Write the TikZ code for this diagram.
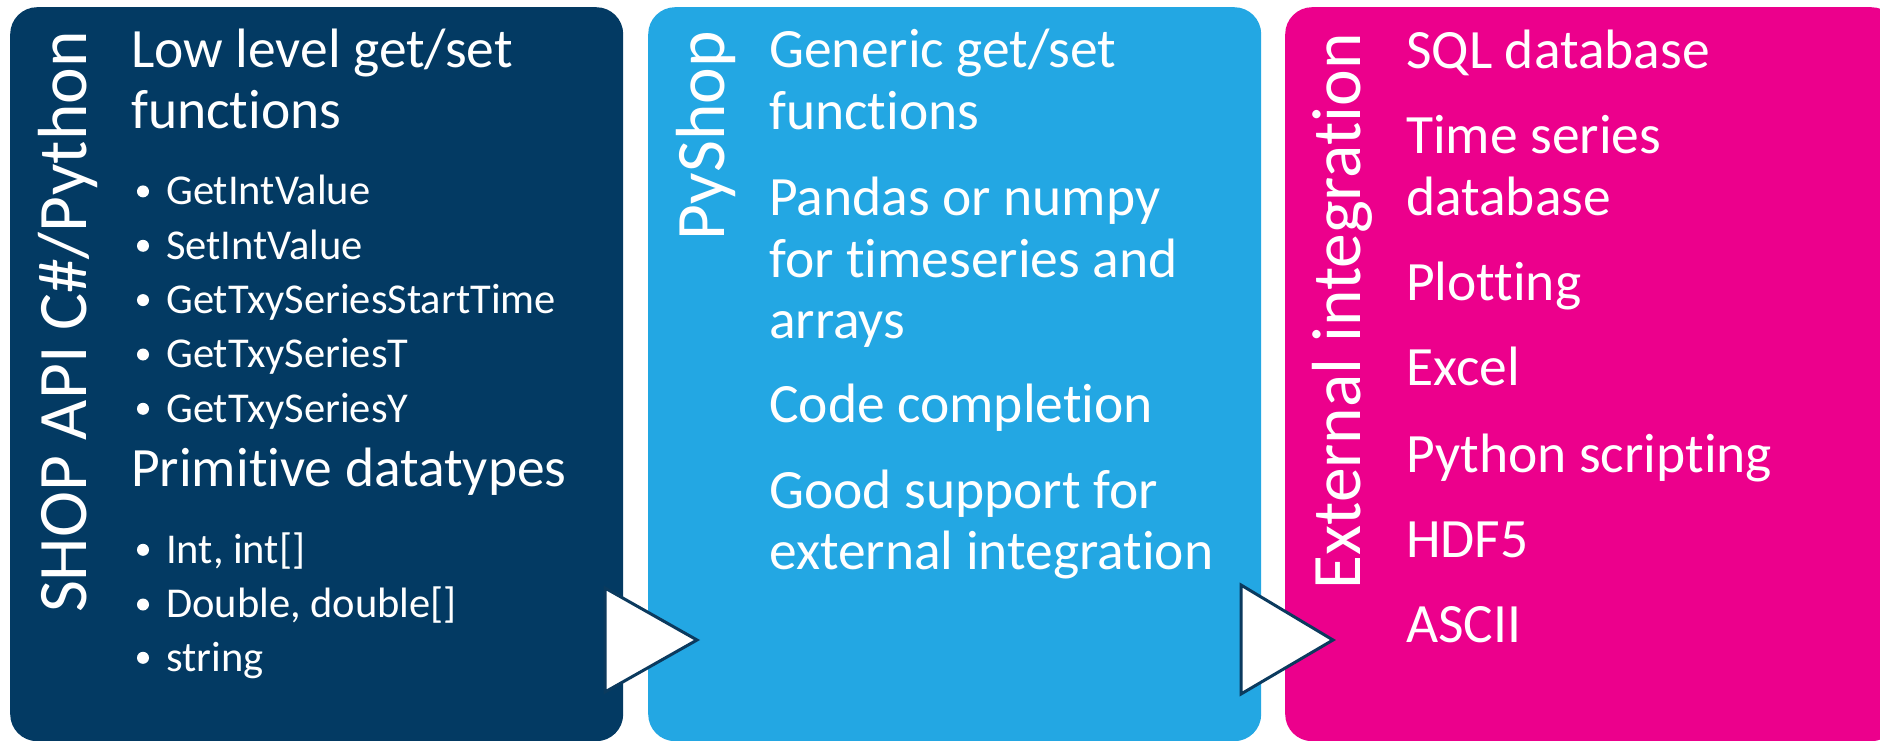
\documentclass[tikz,border=0pt]{standalone}
\usepackage{fontspec}
\setmainfont{Carlito}[Ligatures={NoCommon}]
\definecolor{navy}{HTML}{033A63}
\definecolor{sky}{HTML}{23A7E3}
\definecolor{pink}{HTML}{EC008C}
\definecolor{edgeblue}{HTML}{0B3A5E}
\begin{document}
\begin{tikzpicture}[x=1pt,y=-1pt,
  box/.style={rectangle, rounded corners=27pt, minimum width=613pt, minimum height=734pt, anchor=north west, inner sep=0pt, draw=none},
  head/.style={text=white, inner sep=0pt, anchor=base west, font=\fontsize{55.5}{61}\selectfont},
  item/.style={text=white, inner sep=0pt, anchor=base west, font=\fontsize{42.5}{51}\selectfont},
  side/.style={text=white, inner sep=0pt, anchor=base east, rotate=90, font=\fontsize{69.5}{80}\selectfont},
  tri/.style={fill=white, draw=edgeblue, line width=3pt, line join=miter}]
\path[use as bounding box, clip] (0,0) rectangle (1880,741);
\fill[white] (0,0) rectangle (1880,741);
% boxes
\node[box, fill=navy] (box1) at (10,7) {};
\node[box, fill=sky] (box2) at (648,7) {};
\node[box, fill=pink] (box3) at (1285,7) {};
% side labels
\node[side] (lab1) at (86.5,31) {SHOP API C\#/Python};
\node[side] (lab2) at (724,31) {PyShop};
\node[side] (lab3) at (1360,33) {External integration};
% box 1
\node[head] (b1h1a) at (131,67.6) {Low level get/set};
\node[head] (b1h1b) at (131,128.5) {functions};
\foreach \t/\y [count=\i] in {GetIntValue/204.6, SetIntValue/259, GetTxySeriesStartTime/313.3, GetTxySeriesT/367.7, GetTxySeriesY/422}{
  \fill[white] (143,\y-13.2) circle (6);
  \node[item] (b1i\i) at (166,\y) {\t};
}
\node[head] (b1h2) at (131,486.8) {Primitive datatypes};
\fill[white] (143,563-13.2) circle (6);
\node[item] (b1j1) at (166,563) {Int, int[]};
\fill[white] (143,617.7-13.2) circle (6);
\node[item] (b1j2) at (166,617.7) {Double, double[]};
\fill[white] (143,671-13.2) circle (6);
\node[item] (b1j3) at (166,671) {string};
% box 2
\node[head] (b2a) at (769,67.3) {Generic get/set};
\node[head] (b2b) at (769,129.8) {functions};
\node[head] (b2c) at (769,215.5) {Pandas or numpy};
\node[head] (b2d) at (769,277.6) {for timeseries and};
\node[head] (b2e) at (769,338) {arrays};
\node[head] (b2f) at (769,422.4) {Code completion};
\node[head] (b2g) at (769,508) {Good support for};
\node[head] (b2h) at (769,569.4) {external integration};
% box 3
\node[head] (b3a) at (1406,68.5) {SQL database};
\node[head] (b3b) at (1406,153.6) {Time series};
\node[head] (b3c) at (1406,215) {database};
\node[head] (b3d) at (1406,300) {Plotting};
\node[head] (b3e) at (1406,385) {Excel};
\node[head] (b3f) at (1406,472.6) {Python scripting};
\node[head] (b3g) at (1406,557.7) {HDF5};
\node[head] (b3h) at (1406,642.7) {ASCII};
% arrows
\draw[tri] (605,588) -- (697,640) -- (605,692) -- cycle;
\draw[tri] (1241,585) -- (1333,640) -- (1241,694) -- cycle;
\end{tikzpicture}
\end{document}
